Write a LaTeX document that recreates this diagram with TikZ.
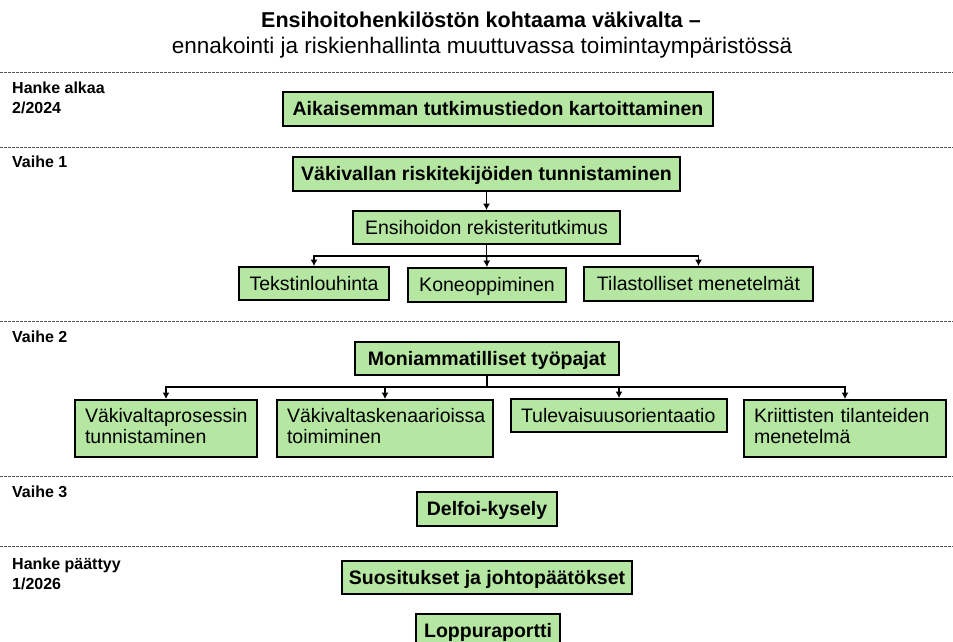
\documentclass[tikz,border=0pt]{standalone}
\usepackage{fontspec}
\setmainfont{Liberation Sans}
\usetikzlibrary{arrows.meta}
\definecolor{boxgreen}{HTML}{B5E6A2}
\definecolor{dashgray}{HTML}{555555}
\tikzset{
  box/.style={draw=black, line width=1.8pt, fill=boxgreen, inner sep=0pt, text height=15.5pt, text depth=2.5pt, font=\fontsize{19.5}{21}\selectfont},
  bbox/.style={box, font=\fontsize{19.5}{21}\selectfont\bfseries},
  tbox/.style={box, align=left, inner xsep=10pt, inner ysep=0pt, text height=22pt, text depth=35pt, minimum height=57},
  phase/.style={anchor=base west, align=left, font=\fontsize{16}{20}\selectfont\bfseries, inner sep=0pt},
  sep/.style={dashgray, line width=0.6pt, dash pattern=on 2.5pt off 1.5pt},
  arr/.style={line width=1.6pt, -{Latex[length=6.5pt,width=7pt]}},
  ln/.style={line width=1.6pt},
}
\begin{document}
\begin{tikzpicture}[x=1pt,y=-1pt]
\useasboundingbox[fill=white] (0,0) rectangle (953,642);
% title
\node[font=\fontsize{21.5}{24}\selectfont\bfseries] (t1) at (481,20) {Ensihoitohenkilöstön kohtaama väkivalta –};
\node[font=\fontsize{22.5}{24}\selectfont] (t2) at (482,48) {ennakointi ja riskienhallinta muuttuvassa toimintaympäristössä};
% separators
\coordinate (s1l) at (0,72); \coordinate (s1r) at (953,72);
\coordinate (s2l) at (0,147); \coordinate (s2r) at (953,147);
\coordinate (s3l) at (0,321); \coordinate (s3r) at (953,321);
\coordinate (s4l) at (0,476); \coordinate (s4r) at (953,476);
\coordinate (s5l) at (0,546); \coordinate (s5r) at (953,546);
\foreach \a/\b in {s1l/s1r,s2l/s2r,s3l/s3r,s4l/s4r,s5l/s5r} \draw[sep] (\a) -- (\b);
% phase labels (base = last line)
\node[phase] (p0) at (12,113) {Hanke alkaa\\2/2024};
\node[phase] (p1) at (12,167) {Vaihe 1};
\node[phase] (p2) at (12,342) {Vaihe 2};
\node[phase] (p3) at (12,497) {Vaihe 3};
\node[phase] (p4) at (12,589) {Hanke päättyy\\1/2026};
% boxes
\node[bbox, minimum width=430, minimum height=34] (b1) at (498,109) {Aikaisemman tutkimustiedon kartoittaminen};
\node[bbox, minimum width=387, minimum height=34] (b2) at (486.5,174) {Väkivallan riskitekijöiden tunnistaminen};
\node[box, minimum width=267, minimum height=33] (b3) at (486.5,227.5) {Ensihoidon rekisteritutkimus};
\node[box, minimum width=150, minimum height=33] (c1) at (314,283.5) {Tekstinlouhinta};
\node[box, minimum width=158, minimum height=34] (c2) at (487,285) {Koneoppiminen};
\node[box, minimum width=229, minimum height=34] (c3) at (698.5,284) {Tilastolliset menetelmät};
\node[bbox, minimum width=264, minimum height=33] (m) at (487,358.5) {Moniammatilliset työpajat};
\node[tbox, minimum width=182, text width=162] (d1) at (166,428.5) {Väkivaltaprosessin\\tunnistaminen};
\node[tbox, minimum width=216, text width=196] (d2) at (385,428.5) {Väkivaltaskenaarioissa\\toimiminen};
\node[box, minimum width=216, minimum height=33, text width=196, align=left, inner xsep=10pt] (d3) at (619,415.5) {Tulevaisuusorientaatio};
\node[tbox, minimum width=202, text width=182] (d4) at (845,428.5) {Kriittisten tilanteiden\\menetelmä};
\node[bbox, minimum width=140, minimum height=34] (e) at (487,509) {Delfoi-kysely};
\node[bbox, minimum width=290, minimum height=33] (f) at (487,577.5) {Suositukset ja johtopäätökset};
\node[bbox, minimum width=144, minimum height=34] (g) at (488,631) {Loppuraportti};
% connectors
\draw[arr] (b2.south) -- (b3.north);
\coordinate (j1) at (486.5,256);
\draw[ln] (b3.south) -- (j1);
\draw[arr] (j1) -| (c1.north);
\draw[arr] (j1) -| (c3.north);
\draw[arr] (j1) -- (c2.north);
\coordinate (j2) at (487,387);
\draw[ln] (m.south) -- (j2);
\draw[arr] (j2) -| (d1.north);
\draw[arr] (j2) -| (d2.north);
\draw[arr] (j2) -| (d3.north);
\draw[arr] (j2) -| (d4.north);
\end{tikzpicture}
\end{document}
